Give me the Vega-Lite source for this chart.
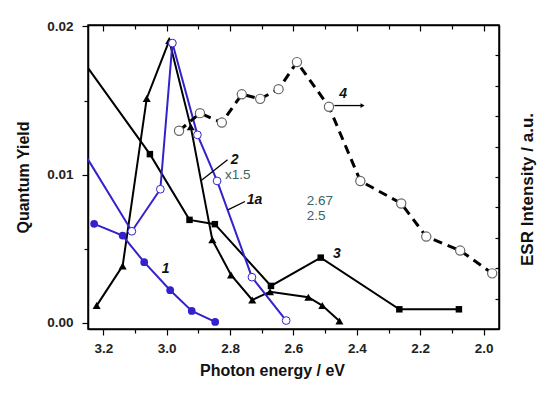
{
  "$schema": "https://vega.github.io/schema/vega-lite/v6.json",
  "width": 411,
  "height": 304,
  "autosize": "none",
  "padding": {"left": 88, "top": 25, "right": 51, "bottom": 65},
  "background": "white",
  "config": {
    "view": {"stroke": "black", "strokeWidth": 1.5},
    "axis": {
      "labelFont": "Liberation Sans", "titleFont": "Liberation Sans",
      "labelFontWeight": "bold", "titleFontWeight": "bold",
      "labelFontSize": 13.5, "titleFontSize": 16,
      "labelColor": "#222222", "titleColor": "#111111",
      "domainColor": "black", "domainWidth": 1.5,
      "tickColor": "black", "tickWidth": 1.2, "grid": false
    }
  },
  "datasets": {
    "qy": [
      {"s": "1", "e": 3.229, "qy": 0.00667},
      {"s": "1", "e": 3.139, "qy": 0.00588},
      {"s": "1", "e": 3.071, "qy": 0.00408},
      {"s": "1", "e": 2.989, "qy": 0.00219},
      {"s": "1", "e": 2.921, "qy": 0.00079},
      {"s": "1", "e": 2.847, "qy": 0.00005},
      {"s": "1a", "e": 3.3, "qy": 0.01283},
      {"s": "1a", "e": 3.110, "qy": 0.00617},
      {"s": "1a", "e": 3.020, "qy": 0.00901},
      {"s": "1a", "e": 2.982, "qy": 0.01888},
      {"s": "1a", "e": 2.903, "qy": 0.01268},
      {"s": "1a", "e": 2.841, "qy": 0.00957},
      {"s": "1a", "e": 2.731, "qy": 0.00307},
      {"s": "1a", "e": 2.623, "qy": 0.00014},
      {"s": "2", "e": 3.221, "qy": 0.00115},
      {"s": "2", "e": 3.139, "qy": 0.00383},
      {"s": "2", "e": 3.063, "qy": 0.01514},
      {"s": "2", "e": 2.992, "qy": 0.01905},
      {"s": "2", "e": 2.924, "qy": 0.01322},
      {"s": "2", "e": 2.856, "qy": 0.00559},
      {"s": "2", "e": 2.797, "qy": 0.00322},
      {"s": "2", "e": 2.730, "qy": 0.00153},
      {"s": "2", "e": 2.674, "qy": 0.00209},
      {"s": "2", "e": 2.553, "qy": 0.00172},
      {"s": "2", "e": 2.509, "qy": 0.00115},
      {"s": "2", "e": 2.455, "qy": 0.00011},
      {"s": "3", "e": 3.3, "qy": 0.01873},
      {"s": "3", "e": 3.053, "qy": 0.01138},
      {"s": "3", "e": 2.928, "qy": 0.00694},
      {"s": "3", "e": 2.848, "qy": 0.00665},
      {"s": "3", "e": 2.671, "qy": 0.00248},
      {"s": "3", "e": 2.514, "qy": 0.00439},
      {"s": "3", "e": 2.266, "qy": 0.00090},
      {"s": "3", "e": 2.078, "qy": 0.00090}
    ],
    "esr": [
      {"e": 2.961, "esr": 6.52},
      {"e": 2.895, "esr": 7.10},
      {"e": 2.826, "esr": 6.79},
      {"e": 2.763, "esr": 7.72},
      {"e": 2.705, "esr": 7.57},
      {"e": 2.647, "esr": 7.89},
      {"e": 2.589, "esr": 8.78},
      {"e": 2.488, "esr": 7.31},
      {"e": 2.389, "esr": 4.87},
      {"e": 2.260, "esr": 4.13},
      {"e": 2.181, "esr": 3.04},
      {"e": 2.074, "esr": 2.58},
      {"e": 1.973, "esr": 1.83}
    ],
    "labels": [
      {"label": "1", "e": 3.003, "qy": 0.00361},
      {"label": "1a", "e": 2.723, "qy": 0.00829},
      {"label": "2", "e": 2.786, "qy": 0.01099},
      {"label": "3", "e": 2.463, "qy": 0.00464},
      {"label": "4", "e": 2.443, "qy": 0.01545}
    ],
    "notes": [
      {"label": "x1.5", "e": 2.816, "qy": 0.00998},
      {"label": "2.67", "e": 2.558, "qy": 0.00824},
      {"label": "2.5", "e": 2.558, "qy": 0.00721}
    ],
    "leaders": [
      {"e": 2.889, "e2": 2.808, "qy": 0.00964, "qy2": 0.0110},
      {"e": 2.807, "e2": 2.753, "qy": 0.00762, "qy2": 0.00818},
      {"e": 2.471, "e2": 2.385, "qy": 0.01466, "qy2": 0.01466}
    ],
    "arrowhead": [
      {"e": 2.382, "qy": 0.01466}
    ]
  },
  "resolve": {"scale": {"y": "independent"}, "axis": {"x": "independent", "y": "independent"}},
  "layer": [
    {
      "encoding": {
        "x": {
          "field": "e", "type": "quantitative",
          "scale": {"domain": [1.9515, 3.2483], "reverse": true, "nice": false, "zero": false},
          "axis": {
            "orient": "bottom",
            "title": "Photon energy / eV",
            "values": [2.0, 2.1, 2.2, 2.3, 2.4, 2.5, 2.6, 2.7, 2.8, 2.9, 3.0, 3.1, 3.2],
            "labelExpr": "round(datum.value*10)%2==0 ? format(datum.value,'.1f') : ''",
            "tickSize": {"condition": {"test": "round(datum.value*10)%2==0", "value": 6}, "value": 4},
            "labelPadding": 6,
            "titleX": 184, "titleY": 46, "titleBaseline": "alphabetic", "titleAlign": "center"
          }
        },
        "y": {
          "field": "qy", "type": "quantitative",
          "scale": {"domain": [-0.00043, 0.0201], "nice": false, "zero": false},
          "axis": {
            "orient": "left",
            "title": "Quantum Yield",
            "values": [0, 0.005, 0.01, 0.015, 0.02],
            "labelExpr": "round(datum.value*1000)%10==0 ? format(datum.value,'.2f') : ''",
            "tickSize": {"condition": {"test": "round(datum.value*1000)%10==0", "value": 6}, "value": 4},
            "labelPadding": 9,
            "titleX": -60, "titleY": 152, "titleBaseline": "alphabetic", "titleAngle": 270, "titleAlign": "center"
          }
        }
      },
      "layer": [
        {"data": {"name": "qy"}, "transform": [{"filter": "datum.s=='3'"}],
         "mark": {"type": "line", "color": "black", "strokeWidth": 2, "clip": true}},
        {"data": {"name": "qy"}, "transform": [{"filter": "datum.s=='2'"}],
         "mark": {"type": "line", "color": "black", "strokeWidth": 2, "clip": true}},
        {"data": {"name": "qy"}, "transform": [{"filter": "datum.s=='1a'"}],
         "mark": {"type": "line", "color": "#3322cc", "strokeWidth": 2, "clip": true}},
        {"data": {"name": "qy"}, "transform": [{"filter": "datum.s=='1'"}],
         "mark": {"type": "line", "color": "#3322cc", "strokeWidth": 2, "clip": true}},
        {"data": {"name": "qy"}, "transform": [{"filter": "datum.s=='3'"}],
         "mark": {"type": "point", "shape": "square", "filled": true, "color": "black", "size": 42, "opacity": 1, "clip": true}},
        {"data": {"name": "qy"}, "transform": [{"filter": "datum.s=='2'"}],
         "mark": {"type": "point", "shape": "triangle-up", "filled": true, "color": "black", "size": 65, "opacity": 1, "clip": true}},
        {"data": {"name": "qy"}, "transform": [{"filter": "datum.s=='1a'"}],
         "mark": {"type": "point", "shape": "circle", "filled": false, "fill": "white", "fillOpacity": 1, "stroke": "#3322cc", "strokeWidth": 1, "size": 60, "opacity": 1, "clip": true}},
        {"data": {"name": "qy"}, "transform": [{"filter": "datum.s=='1'"}],
         "mark": {"type": "point", "shape": "circle", "filled": true, "color": "#3322cc", "size": 60, "opacity": 1, "clip": true}},
        {"data": {"name": "leaders"},
         "mark": {"type": "rule", "color": "black", "strokeWidth": 1.3},
         "encoding": {"x2": {"field": "e2"}, "y2": {"field": "qy2"}}},
        {"data": {"name": "arrowhead"},
         "mark": {"type": "point", "shape": "triangle-right", "filled": true, "color": "black", "size": 22, "opacity": 1}},
        {"data": {"name": "labels"},
         "mark": {"type": "text", "font": "Liberation Sans", "fontWeight": "bold", "fontStyle": "italic", "fontSize": 14, "color": "#111111", "align": "center", "baseline": "middle"},
         "encoding": {"text": {"field": "label"}}},
        {"data": {"name": "notes"},
         "mark": {"type": "text", "font": "Liberation Sans", "fontSize": 13.5, "color": "#3a6464", "align": "left", "baseline": "middle"},
         "encoding": {"text": {"field": "label"}}}
      ]
    },
    {
      "data": {"name": "esr"},
      "encoding": {
        "x": {
          "field": "e", "type": "quantitative",
          "scale": {"domain": [1.9515, 3.2483], "reverse": true, "nice": false, "zero": false},
          "axis": {
            "orient": "top", "title": null, "labels": false,
            "values": [2.0, 2.1, 2.2, 2.3, 2.4, 2.5, 2.6, 2.7, 2.8, 2.9, 3.0, 3.1, 3.2],
            "tickSize": {"condition": {"test": "round(datum.value*10)%2==0", "value": -6}, "value": -4}
          }
        },
        "y": {
          "field": "esr", "type": "quantitative",
          "scale": {"domain": [0, 10], "nice": false, "zero": false},
          "axis": {
            "orient": "right", "title": "ESR Intensity / a.u.", "labels": false,
            "values": [1, 2, 3, 4, 5, 6, 7, 8, 9],
            "tickSize": -4,
            "titleFontSize": 17,
            "titleX": 33, "titleY": 164, "titleBaseline": "alphabetic", "titleAngle": 270, "titleAlign": "center"
          }
        }
      },
      "layer": [
        {"mark": {"type": "line", "color": "black", "strokeWidth": 3, "strokeDash": [9, 6], "clip": true}},
        {"mark": {"type": "point", "shape": "circle", "filled": false, "fill": "white", "fillOpacity": 1, "stroke": "#666666", "strokeWidth": 1.2, "size": 85, "opacity": 1, "clip": true}}
      ]
    }
  ]
}
